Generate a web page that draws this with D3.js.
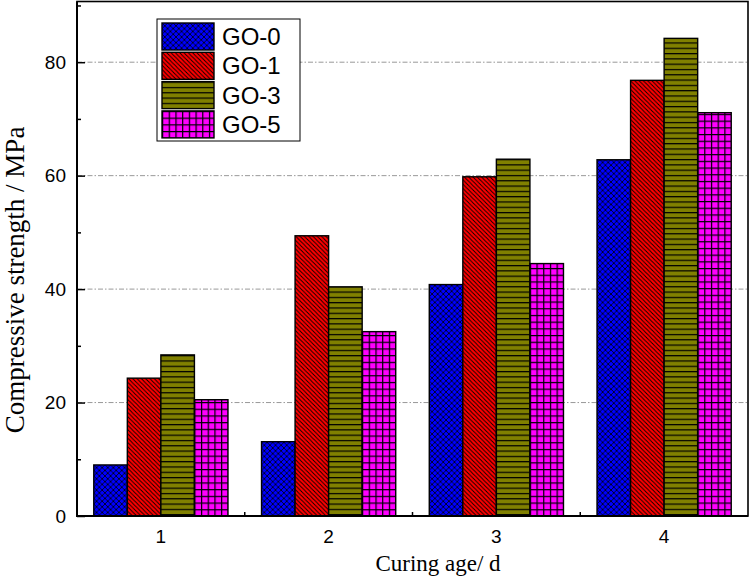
<!DOCTYPE html>
<html>
<head>
<meta charset="utf-8">
<script src="https://cdn.jsdelivr.net/npm/d3@7/dist/d3.min.js"></script>
<style>
  html, body { margin: 0; padding: 0; background: #fff; }
  svg { display: block; }
</style>
</head>
<body>
<svg id="chart" width="750" height="576"></svg>
<script>
// ---- data ----
const categories = ["1", "2", "3", "4"];
const seriesNames = ["GO-0", "GO-1", "GO-3", "GO-5"];
const go0 = [9.0, 13.1, 40.8, 62.8];
const go1 = [24.3, 49.4, 59.8, 76.8];
const go3 = [28.4, 40.4, 62.9, 84.2];
const go5 = [20.5, 32.5, 44.5, 71.1];
const yMajorTicks = [0, 20, 40, 60, 80];
const yMinorTicks = [10, 30, 50, 70, 90];
const xTitle = "Curing age/ d";
const yTitle = "Compressive strength / MPa";

const seriesValues = [go0, go1, go3, go5];
const colors = ["#0000ff", "#ff0000", "#808000", "#ff00ff"];

const svg = d3.select("#chart");
const L = 77, R = 748, T = 1.5, B = 516;

const x = d3.scaleBand().domain(categories).range([L, R]).paddingInner(0.2).paddingOuter(0.1);
const xi = d3.scaleBand().domain(seriesNames).range([0, x.bandwidth()]).padding(0);
const y = d3.scaleLinear().domain([0, 90.7]).range([B, T]);

// ---- patterns ----
const defs = svg.append("defs");
// GO-0: blue with black diagonal crosshatch
{
  const s = 5.6;
  const p = defs.append("pattern").attr("id", "pat0").attr("patternUnits", "userSpaceOnUse")
    .attr("width", s).attr("height", s);
  p.append("rect").attr("width", s).attr("height", s).attr("fill", colors[0]);
  p.append("path").attr("d", `M0,0L${s},${s}M0,${s}L${s},0`).attr("stroke", "#000").attr("stroke-width", 0.8);
}
// GO-1: red with diagonal lines "\"
{
  const s = 4.3;
  const p = defs.append("pattern").attr("id", "pat1").attr("patternUnits", "userSpaceOnUse")
    .attr("width", s).attr("height", s);
  p.append("rect").attr("width", s).attr("height", s).attr("fill", colors[1]);
  p.append("path").attr("d", `M-1,-1L${s + 1},${s + 1}M-1,${s - 1}L1,${s + 1}M${s - 1},-1L${s + 1},1`)
    .attr("stroke", "#000").attr("stroke-width", 0.9);
}
// GO-3: olive with horizontal lines
{
  const p = defs.append("pattern").attr("id", "pat2").attr("patternUnits", "userSpaceOnUse")
    .attr("width", 10).attr("height", 5.3);
  p.append("rect").attr("width", 10).attr("height", 5.3).attr("fill", colors[2]);
  p.append("rect").attr("y", 0).attr("width", 10).attr("height", 1.2).attr("fill", "#000");
}
// GO-5: magenta grid
{
  const p = defs.append("pattern").attr("id", "pat3").attr("patternUnits", "userSpaceOnUse")
    .attr("width", 6.7).attr("height", 6.7);
  p.append("rect").attr("width", 6.7).attr("height", 6.7).attr("fill", colors[3]);
  p.append("rect").attr("width", 6.7).attr("height", 1.2).attr("fill", "#000");
  p.append("rect").attr("width", 1.2).attr("height", 6.7).attr("fill", "#000");
}
const patIds = ["pat0", "pat1", "pat2", "pat3"];

// ---- gridlines ----
svg.append("g").selectAll("line").data(yMajorTicks.filter(d => d > 0)).join("line")
  .attr("x1", L).attr("x2", R)
  .attr("y1", d => y(d)).attr("y2", d => y(d))
  .attr("stroke", "#999").attr("stroke-width", 1)
  .attr("stroke-dasharray", "5,2,1.5,2");

// ---- bars ----
const groups = svg.append("g").selectAll("g").data(categories).join("g")
  .attr("transform", d => `translate(${x(d)},0)`);
groups.selectAll("rect").data((c, ci) => seriesNames.map((s, si) => ({ s, si, v: seriesValues[si][ci] })))
  .join("rect")
  .attr("x", d => xi(d.s))
  .attr("width", xi.bandwidth())
  .attr("y", d => y(d.v))
  .attr("height", d => y(0) - y(d.v))
  .attr("fill", d => `url(#${patIds[d.si]})`)
  .attr("stroke", "#000").attr("stroke-width", 1.4);

// ---- axes ----
const fontTick = "'Liberation Sans', Arial, sans-serif";
const fontTitle = "'Liberation Serif', 'Times New Roman', serif";

const yAxis = svg.append("g").attr("transform", `translate(${L},0)`)
  .call(d3.axisLeft(y).tickValues(yMajorTicks).tickSize(-8).tickPadding(11).tickFormat(d3.format("d")));
yAxis.selectAll("text").attr("font-family", fontTick).attr("font-size", 19).attr("fill", "#000");
yAxis.selectAll("line").attr("stroke", "#000").attr("stroke-width", 1.5);
yAxis.select(".domain").remove();

const yMinor = svg.append("g").attr("transform", `translate(${L},0)`)
  .call(d3.axisLeft(y).tickValues(yMinorTicks).tickSize(-4).tickFormat(""));
yMinor.selectAll("line").attr("stroke", "#000").attr("stroke-width", 1.5);
yMinor.select(".domain").remove();

const xAxis = svg.append("g").attr("transform", `translate(0,${B})`)
  .call(d3.axisBottom(x).tickSize(0).tickPadding(14));
xAxis.selectAll("text").attr("font-family", fontTick).attr("font-size", 19).attr("fill", "#000");
xAxis.select(".domain").remove();

// minor x ticks at gaps between groups
const gapPositions = categories.slice(0, -1).map((c, i) => (x(c) + x.bandwidth() + x(categories[i + 1])) / 2);
svg.append("g").selectAll("line").data(gapPositions).join("line")
  .attr("x1", d => d).attr("x2", d => d)
  .attr("y1", B).attr("y2", B - 4)
  .attr("stroke", "#000").attr("stroke-width", 1.5);

// frame
svg.append("rect").attr("x", L).attr("y", T).attr("width", R - L).attr("height", B - T)
  .attr("fill", "none").attr("stroke", "#000").attr("stroke-width", 1.6);
svg.append("line").attr("x1", L).attr("x2", L).attr("y1", T).attr("y2", B + 1)
  .attr("stroke", "#000").attr("stroke-width", 2);
svg.append("line").attr("x1", L - 1).attr("x2", R).attr("y1", B).attr("y2", B)
  .attr("stroke", "#000").attr("stroke-width", 2);

// titles
svg.append("text").attr("x", 438).attr("y", 571).attr("text-anchor", "middle")
  .attr("font-family", fontTitle).attr("font-size", 23).attr("fill", "#000").text(xTitle);
svg.append("text").attr("transform", "translate(24,280) rotate(-90)").attr("text-anchor", "middle")
  .attr("font-family", fontTitle).attr("font-size", 27).attr("fill", "#000").text(yTitle);

// ---- legend ----
const lg = svg.append("g");
lg.append("rect").attr("x", 157).attr("y", 19).attr("width", 143).attr("height", 122)
  .attr("fill", "#fff").attr("stroke", "#000").attr("stroke-width", 1);
const items = lg.selectAll("g").data(seriesNames).join("g")
  .attr("transform", (d, i) => `translate(162,${23 + i * 29.3})`);
items.append("rect").attr("width", 52).attr("height", 27)
  .attr("fill", (d, i) => `url(#${patIds[i]})`).attr("stroke", "#000").attr("stroke-width", 1.4);
items.append("text").attr("x", 60).attr("y", 13.5).attr("dy", "0.36em")
  .attr("font-family", fontTick).attr("font-size", 24).attr("fill", "#000").text(d => d);
</script>
</body>
</html>
